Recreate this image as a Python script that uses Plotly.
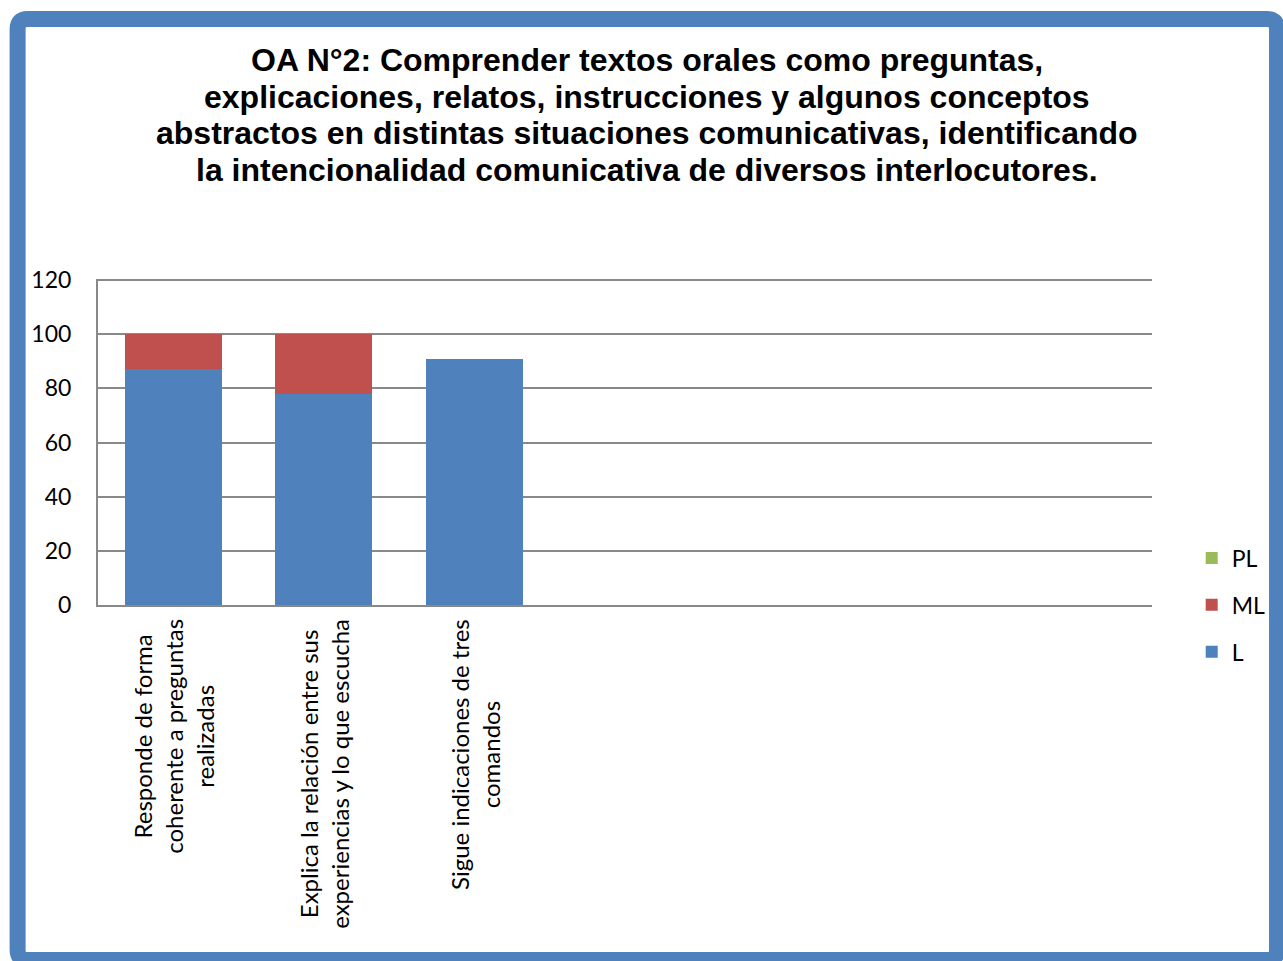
import plotly.graph_objects as go

title_lines = [
    "OA N°2: Comprender textos orales como preguntas,",
    "explicaciones, relatos, instrucciones y algunos conceptos",
    "abstractos en distintas situaciones comunicativas, identificando",
    "la intencionalidad comunicativa de diversos interlocutores.",
]

categories = [
    "Responde de forma<br>coherente a preguntas<br>realizadas",
    "Explica la relación entre sus<br>experiencias y lo que escucha",
    "Sigue indicaciones de tres<br>comandos",
]
n_slots = 7  # the source chart reserves 7 category slots, only 3 are used

L = [87, 78, 91]
ML = [13, 22, 0]
PL = [0, 0, 0]

y_ticks = [0, 20, 40, 60, 80, 100, 120]

W, H = 1283, 961
ml, mr, mt, mb = 98, 123, 279, 356
pw, ph = W - ml - mr, H - mt - mb


def px2paper(px, py):
    # page pixel -> paper coordinates
    return (px - ml) / pw, (H - mb - py) / ph


x = list(range(len(categories)))
series = [("L", L, "#4F81BD", 3), ("ML", ML, "#C0504D", 2),
          ("PL", PL, "#9BBB59", 1)]

fig = go.Figure()
for name, vals, color, rank in series:
    fig.add_trace(go.Bar(x=x, y=vals, name=name, marker_color=color,
                         marker_line_width=0, legendgroup=name,
                         legendrank=rank))

# category labels, centred multi-line and rotated like the original
for i, lab in enumerate(categories):
    fig.add_annotation(x=i, y=0, xref="x", yref="paper", text=lab,
                       textangle=-90, xanchor="center", yanchor="top",
                       yshift=-12, showarrow=False, align="center",
                       font=dict(family="Lato", size=24, color="black"))

# title, one line per annotation to keep the tight line spacing
title_y = [60, 97, 133, 170]
for line, ty in zip(title_lines, title_y):
    tx, tyy = px2paper(651, ty)
    fig.add_annotation(x=tx, y=tyy, xref="paper", yref="paper", text=line,
                       xanchor="center", yanchor="middle", showarrow=False,
                       font=dict(family="Liberation Sans", size=32,
                                 color="black", weight="bold"))

# blue rounded frame around the whole chart
l, t, r, b, rad = 17, 19, 1286, 960, 10
pts = [
    ("M", l, t + rad), ("Q", l, t, l + rad, t), ("L", r - rad, t),
    ("Q", r, t, r, t + rad), ("L", r, b - rad), ("Q", r, b, r - rad, b),
    ("L", l + rad, b), ("Q", l, b, l, b - rad), ("Z",),
]
path = ""
for p in pts:
    s = p[0]
    coords = p[1:]
    for k in range(0, len(coords), 2):
        fx, fy = px2paper(coords[k], coords[k + 1])
        s += f" {fx:.5f},{fy:.5f}"
    path += s + " "
fig.add_shape(type="path", path=path.strip(), xref="paper", yref="paper",
              line=dict(color="#4F81BD", width=16))

lx, ly = px2paper(1200, 605)
fig.update_layout(
    width=W, height=H,
    margin=dict(l=ml, r=mr, t=mt, b=mb),
    barmode="stack",
    bargap=0.354,
    plot_bgcolor="white",
    paper_bgcolor="white",
    legend=dict(x=lx, xanchor="left", y=ly, yanchor="middle",
                traceorder="grouped", tracegroupgap=14,
                bgcolor="rgba(0,0,0,0)",
                font=dict(family="Lato", size=23, color="black"),
                itemwidth=30),
    showlegend=True,
)
fig.update_xaxes(range=[-0.5, n_slots - 0.5], showticklabels=False,
                 showgrid=False, showline=True, linecolor="#898989",
                 linewidth=2, zeroline=False, fixedrange=True)
fig.update_yaxes(range=[0, 120.4], tickvals=y_ticks, showgrid=True,
                 gridcolor="#898989", gridwidth=2, showline=True,
                 linecolor="#898989", linewidth=2, zeroline=False,
                 ticks="", ticklabelstandoff=20,
                 tickfont=dict(family="Lato", size=23, color="black"))

# drop the default 8px body margin so the figure fills the window exactly
fig.write_html("out.html", config={"displayModeBar": False},
               post_script="document.body.style.margin='0';"
                           "document.body.style.overflow='hidden';")
